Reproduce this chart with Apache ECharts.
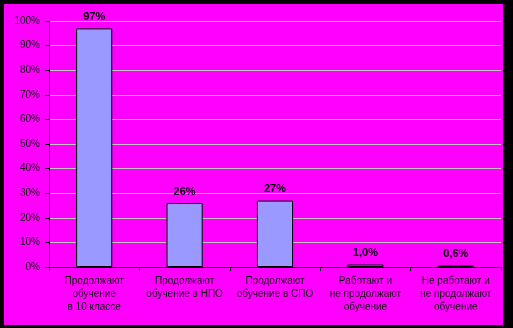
<!DOCTYPE html>
<html><head><meta charset="utf-8">
<script src="https://cdn.jsdelivr.net/npm/echarts@6/dist/echarts.min.js"></script>
<style>
html,body{margin:0;padding:0;background:#000;width:513px;height:328px;overflow:hidden}
#c{position:absolute;left:4px;top:4px;width:499px;height:321px}
</style></head><body>
<div id="c"></div>
<script>
const categories = ['Продолжают\nобучение\nв 10 классе','Продолжают\nобучение в НПО','Продолжают\nобучение в СПО','Работают и\nне продолжают\nобучение','Не работают и\nне продолжают\nобучение'];
const values = [97, 26, 27, 1.0, 0.6];
const valueLabels = ['97%','26%','27%','1,0%','0,6%'];
const yTicks = [0,10,20,30,40,50,60,70,80,90,100];

const chart = echarts.init(document.getElementById('c'), null, {renderer:'canvas'});
chart.setOption({
  backgroundColor:'#FF00FF',
  animation:false,
  grid:{left:45,right:2,top:17,bottom:58},
  xAxis:{type:'category',data:categories,
    axisLine:{lineStyle:{color:'#000',width:1}},
    axisTick:{show:true,length:4,lineStyle:{color:'#000'},alignWithLabel:false},
    axisLabel:{interval:0,color:'#111',fontFamily:'Arial, Liberation Sans',fontSize:10,lineHeight:13,margin:8}},
  yAxis:{type:'value',min:yTicks[0],max:yTicks[yTicks.length-1],interval:10,
    axisLine:{show:true,lineStyle:{color:'#000',width:1}},
    axisTick:{show:true,length:4,lineStyle:{color:'#000'}},
    axisLabel:{formatter:'{value}%',color:'#111',fontFamily:'Arial, Liberation Sans',fontSize:10,margin:9},
    splitLine:{show:true,lineStyle:{color:'#C0C0C0',width:1}}},
  series:[{type:'bar',data:values,barWidth:'40%',
    itemStyle:{color:'#9999FF',borderColor:'#000',borderWidth:1},
    label:{show:true,position:'top',distance:6,formatter:p=>valueLabels[p.dataIndex],
      color:'#000',fontWeight:'bold',fontFamily:'Arial, Liberation Sans',fontSize:11}}]
});
</script></body></html>
